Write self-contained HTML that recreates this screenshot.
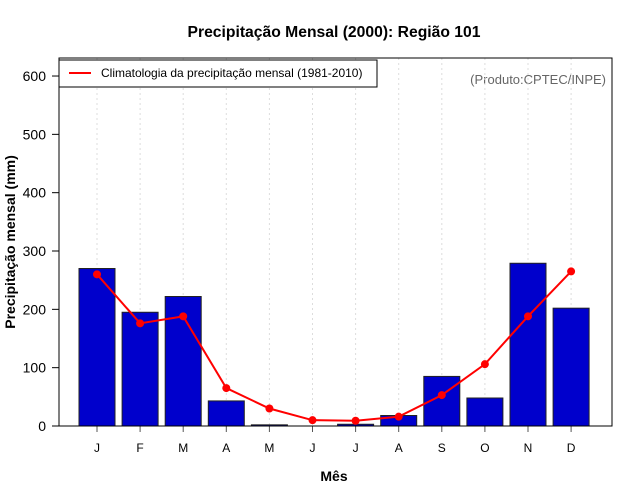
<!DOCTYPE html>
<html><head><meta charset="utf-8"><style>body{margin:0;background:#fff}svg{display:block;font-family:"Liberation Sans",sans-serif}</style></head>
<body>
<svg id="c" width="640" height="500">
<text x="334" y="37" text-anchor="middle" font-size="15.7" font-weight="bold">Precipitação Mensal (2000): Região 101</text>
<text x="334" y="481" text-anchor="middle" font-size="14" font-weight="bold">Mês</text>
<text transform="translate(15,242) rotate(-90)" text-anchor="middle" font-size="14" font-weight="bold">Precipitação mensal (mm)</text>
<text x="606" y="84" text-anchor="end" font-size="13" fill="#666">(Produto:CPTEC/INPE)</text>
<g id="grid"></g><g id="bars"></g><g id="line"></g><g id="axes"></g>
<rect x="59" y="58" width="553" height="368" fill="none" stroke="#000"/>
<g>
<rect x="59" y="60" width="318" height="27" fill="#fff" stroke="#000"/>
<line x1="69" y1="73" x2="91" y2="73" stroke="#f00" stroke-width="2"/>
<text x="101" y="77" font-size="12">Climatologia da precipitação mensal (1981-2010)</text>
</g>
</svg>
<script>
const months=["J","F","M","A","M","J","J","A","S","O","N","D"];
const precip=[270,195,222,43,2,0,3,18,85,48,279,202];
const clim=[260,176,188,65,30,10,9,16,53,106,188,265];
const yTicks=[0,100,200,300,400,500,600];
const NS="http://www.w3.org/2000/svg";
const x=i=>97+i*43.1;
const y=v=>426-v*0.5833;
function mk(p,t,a){const e=document.createElementNS(NS,t);for(const k in a)e.setAttribute(k,a[k]);document.getElementById(p).appendChild(e);return e;}
months.forEach((m,i)=>{
 const g=mk("grid","line",{x1:x(i),x2:x(i),y1:58,y2:426,stroke:"#ddd","stroke-dasharray":"2,3"});
 
 
 const b=mk("bars","rect",{x:x(i)-18,width:36,y:y(precip[i]),height:426-y(precip[i]),fill:"#0000cc",stroke:"#222","stroke-width":1});
 
 
 const t=mk("axes","line",{x1:x(i),x2:x(i),y1:426,y2:432,stroke:"#555"});
 
 
 const l=mk("axes","text",{x:x(i),y:452,"text-anchor":"middle","font-size":12});
 l.textContent=m;
 
 
});
const pl=mk("line","polyline",{points:clim.map((v,i)=>x(i)+","+y(v)).join(" "),fill:"none",stroke:"#f00","stroke-width":2});


clim.forEach((v,i)=>{
 const c=mk("line","circle",{cx:x(i),cy:y(v),r:4,fill:"#f00"});
 
 
});
yTicks.forEach(v=>{
 const t=mk("axes","line",{x1:52,x2:59,y1:y(v),y2:y(v),stroke:"#000"});
 
 
 const l=mk("axes","text",{x:46,y:y(v)+5,"text-anchor":"end","font-size":14});
 l.textContent=v;
 
 
});
</script>
</body></html>
